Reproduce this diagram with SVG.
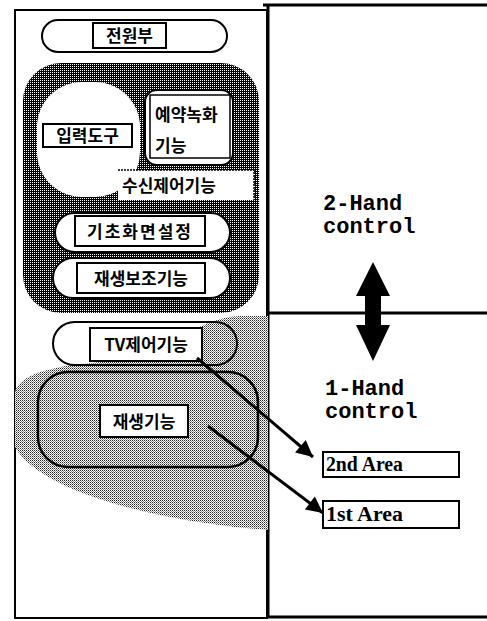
<svg xmlns="http://www.w3.org/2000/svg" width="487" height="621" viewBox="0 0 487 621">
<defs>
<pattern id="dark" width="2" height="2" patternUnits="userSpaceOnUse"><rect width="2" height="2" fill="#000"/><rect width="1" height="1" fill="#fff"/></pattern>
<pattern id="light" width="2" height="2" patternUnits="userSpaceOnUse"><rect width="2" height="2" fill="#fff"/><rect width="1" height="1" fill="#222"/><rect x="1" y="1" width="1" height="1" fill="#888"/></pattern>
<marker id="ah" viewBox="0 0 10 10" refX="10" refY="5" markerWidth="7" markerHeight="5.5" orient="auto" markerUnits="strokeWidth"><path d="M0,0 L10,5 L0,10 Z" fill="#000"/></marker>
<style>
.k{font-family:"Noto Sans CJK KR","Noto Sans",sans-serif;font-size:17px;font-weight:700;fill:#000}
.m{font-family:"Liberation Mono",monospace;font-size:22px;font-weight:bold;fill:#000}
.t{font-family:"Liberation Serif",serif;font-size:20px;font-weight:bold;fill:#000}
.box{fill:#fff;stroke:#000;stroke-width:2}
.cap{fill:#fff;stroke:#000;stroke-width:2}
.ln{stroke:#000;stroke-width:3;fill:none}
</style>
</defs>
<rect width="487" height="621" fill="#fff"/>
<g id="frame">
<rect x="15" y="10" width="252" height="608" fill="none" stroke="#000" stroke-width="2"/>
<line x1="263" y1="5" x2="487" y2="5" class="ln"/>
<line x1="268" y1="5" x2="268" y2="618" class="ln"/>
<line x1="268" y1="313" x2="487" y2="313" class="ln" stroke-width="4"/>
<line x1="268" y1="617" x2="487" y2="617" class="ln"/>
</g>
<g id="power">
<rect x="42" y="20" width="185" height="32" rx="16" class="cap"/>
<rect x="93" y="23" width="73" height="25" class="box"/>
<text x="129.5" y="42" text-anchor="middle" class="k">전원부</text>
</g>
<g id="dark-area">
<rect x="23" y="63" width="236" height="250" rx="38" fill="url(#dark)"/>
</g>
<g id="input">
<rect x="37" y="82" width="103" height="115" rx="45" fill="#fff"/>
<rect x="43" y="124" width="89" height="23" class="box"/>
<text x="87.5" y="142" text-anchor="middle" class="k">입력도구</text>
</g>
<g id="reserve">
<rect x="145" y="90" width="88" height="75" rx="12" class="cap"/>
<rect x="150" y="95" width="80" height="63" fill="#fff" stroke="#000" stroke-width="1.5"/>
<text x="155" y="121" class="k">예약녹화</text>
<text x="155" y="152" class="k">기능</text>
</g>
<g id="receive">
<rect x="118" y="170" width="136" height="30" fill="#fff"/>
<polyline points="118,170 254,170 254,200" fill="none" stroke="#000" stroke-width="1.5" stroke-dasharray="2 1"/>
<text x="122" y="192" class="k">수신제어기능</text>
</g>
<g id="basic">
<rect x="55" y="213" width="175" height="39" rx="19.5" class="cap"/>
<rect x="75" y="216" width="130" height="30" class="box"/>
<text x="140" y="238" text-anchor="middle" class="k" letter-spacing="2">기초화면설정</text>
</g>
<g id="assist">
<rect x="53" y="258" width="177" height="40" rx="20" class="cap"/>
<rect x="77" y="263" width="128" height="30" class="box"/>
<text x="141" y="285" text-anchor="middle" class="k">재생보조기능</text>
</g>
<path d="M15,392 C20,372 60,364 120,361 C170,358 190,318 240,316 L268,316 L268,530 C160,522 40,492 15,447 Z" fill="url(#light)"/>
<g id="tv">
<rect x="53" y="322" width="184" height="43" rx="21.5" fill="none" stroke="#000" stroke-width="2"/>
<rect x="90" y="328" width="112" height="33" class="box"/>
<text x="146" y="351" text-anchor="middle" class="k">TV제어기능</text>
</g>
<g id="play">
<rect x="38" y="372" width="220" height="95" rx="30" fill="none" stroke="#000" stroke-width="2.5"/>
<rect x="100" y="405" width="88" height="32" class="box"/>
<text x="144" y="428" text-anchor="middle" class="k">재생기능</text>
</g>
<g id="two-hand">
<text x="323" y="210" class="m">2-Hand</text>
<text x="323" y="233" class="m">control</text>
</g>
<g id="one-hand">
<text x="325" y="395" class="m">1-Hand</text>
<text x="325" y="418" class="m">control</text>
</g>
<g id="area2">
<rect x="323" y="452" width="136" height="25" fill="#fff" stroke="#000" stroke-width="2"/>
<text x="326" y="471" class="t" textLength="77" lengthAdjust="spacingAndGlyphs">2nd Area</text>
</g>
<g id="area1">
<rect x="323" y="501" width="136" height="27" fill="#fff" stroke="#000" stroke-width="2"/>
<text x="326" y="521" class="t" textLength="77" lengthAdjust="spacingAndGlyphs">1st Area</text>
</g>
<g id="connectors">
<polygon points="373,262 390,296 381,296 381,325 390,325 373,361 356,325 365,325 365,296 356,296" fill="#000"/>
<line x1="197" y1="358" x2="313" y2="457" class="ln" marker-end="url(#ah)"/>
<line x1="208" y1="426" x2="323" y2="513" class="ln" marker-end="url(#ah)"/>
</g>
</svg>
